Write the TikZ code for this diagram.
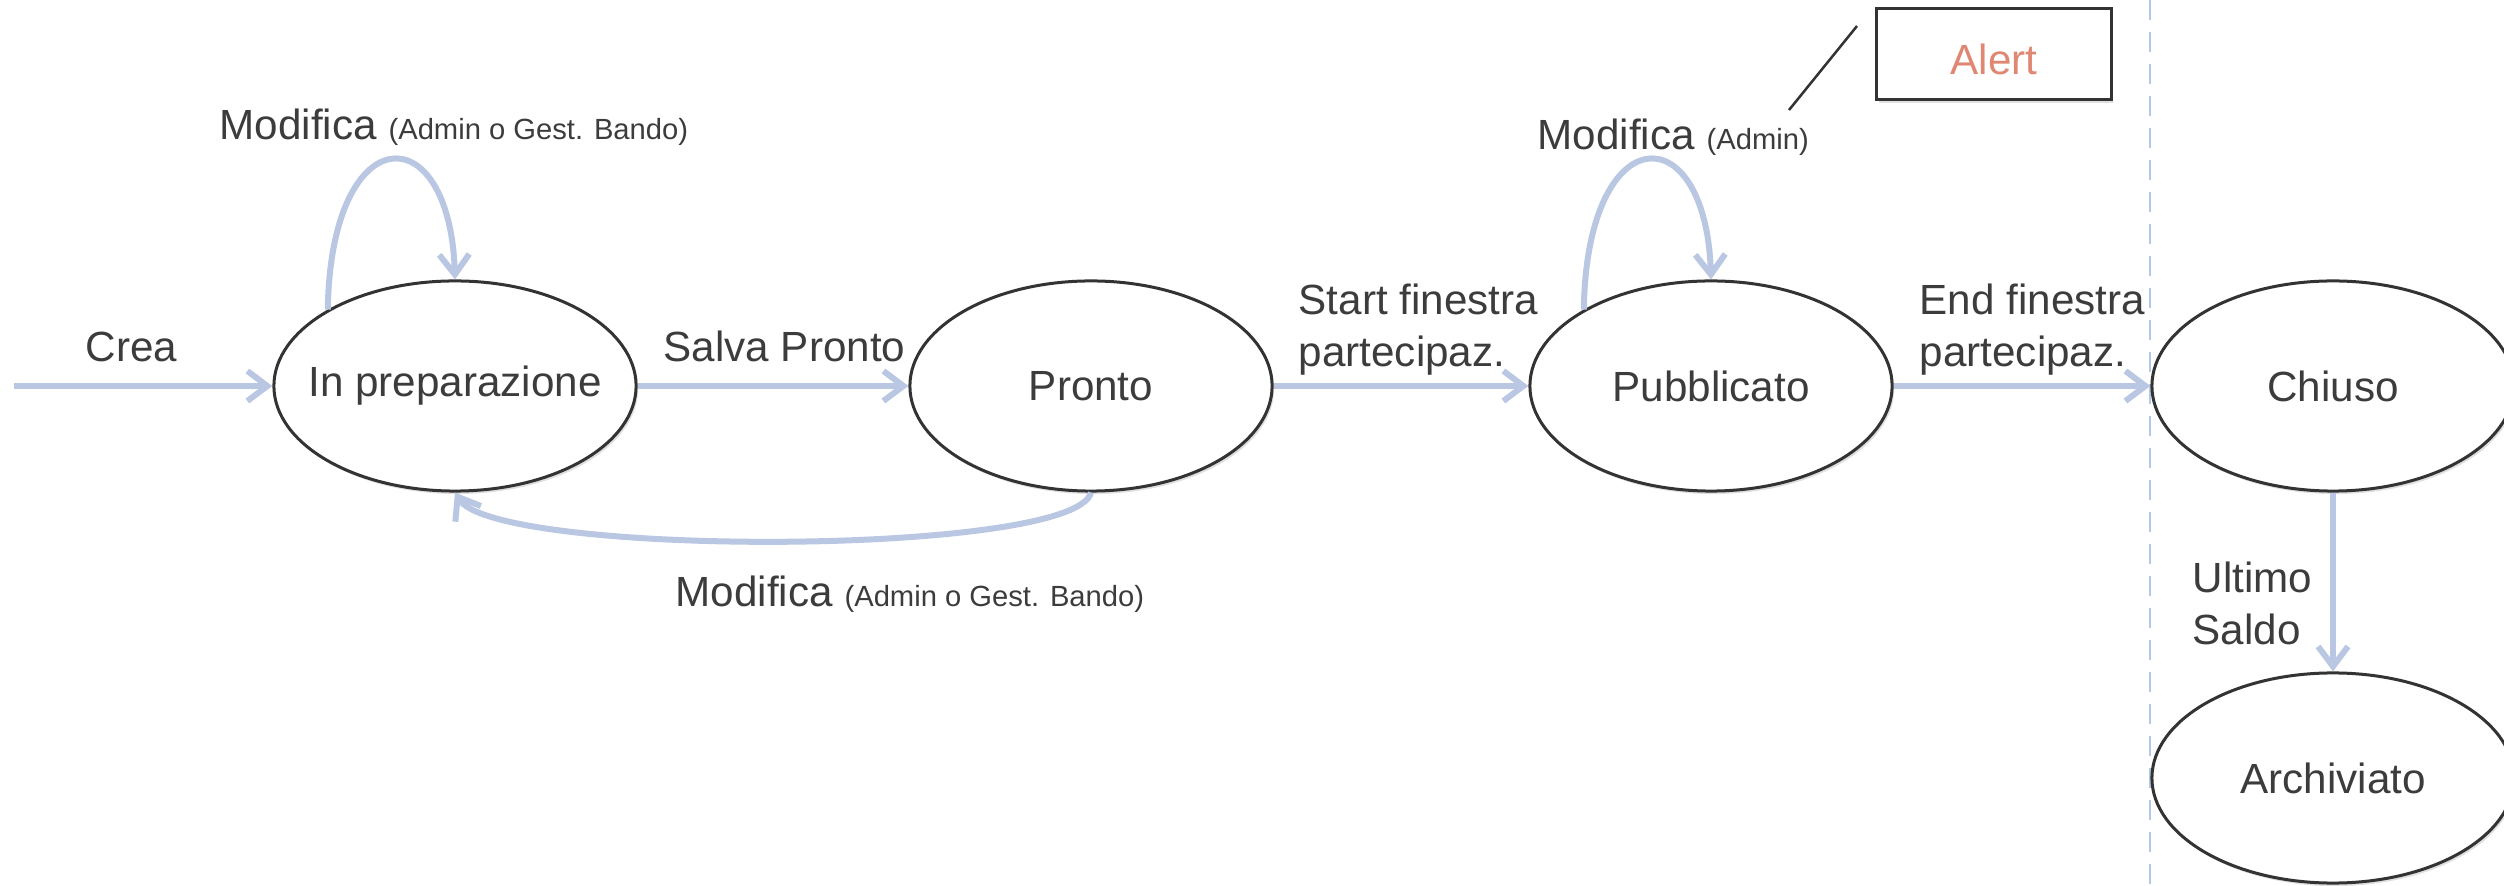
\documentclass[tikz,border=0pt]{standalone}
\usepackage{fontspec}
\setmainfont{Liberation Sans}
\usetikzlibrary{shapes.geometric,arrows.meta,shadows}
\definecolor{flowblue}{RGB}{185,199,227}
\definecolor{dashblue}{RGB}{180,199,231}
\definecolor{edgegray}{RGB}{51,51,51}
\definecolor{txtgray}{RGB}{60,60,60}
\definecolor{alertred}{RGB}{224,135,115}
\newcommand\bigsz{\fontsize{12}{14.8}\selectfont}
\newcommand\smallsz{\fontsize{8.3}{10}\selectfont}

\begin{document}
\begin{tikzpicture}[x=0.01cm,y=-0.01cm,
  state/.style={ellipse, draw=edgegray, line width=0.03cm, fill=white,
    minimum width=3.62cm, minimum height=2.1cm, inner xsep=-0.5cm, inner ysep=0pt,
    text=txtgray, font=\bigsz,
    drop shadow={shadow xshift=0.02cm, shadow yshift=-0.03cm, opacity=0.25}},
  flow/.style={draw=flowblue, line width=0.06cm,
    -{Straight Barb[length=0.2cm,width=0.3cm]}},
  lab/.style={text=txtgray, font=\bigsz, inner sep=0pt, anchor=base west, align=left},
  alertbox/.style={draw=edgegray, line width=0.03cm, fill=white,
    minimum width=2.34cm, minimum height=0.91cm, inner sep=0pt,
    text=alertred, font=\bigsz, text height=0.41cm, text depth=0pt,
    drop shadow={shadow xshift=0.02cm, shadow yshift=-0.03cm, opacity=0.25}}]

  \path[use as bounding box] (0,0) rectangle (2504,886);
  \clip (0,0) rectangle (2504,886);

  % separator between active and closed states
  \coordinate (sepTop) at (2150,0);
  \coordinate (sepBot) at (2150,886);
  \draw[dashblue, line width=0.02cm, dash pattern=on 0.2cm off 0.12cm] (sepTop) -- (sepBot);

  % states
  \node[state] (prep)   at (455,386)  {In preparazione};
  \node[state] (pronto) at (1091,386) {Pronto};
  \node[state] (pubbl)  at (1711,386) {Pubblicato};
  \node[state] (chiuso) at (2333,386) {Chiuso};
  \node[state] (arch)   at (2333,778) {Archiviato};

  % alert callout
  \node[alertbox] (alert) at (1994,54) {Alert};
  \coordinate (calloutA) at (1857,26);
  \coordinate (calloutB) at (1789,110);
  \draw[edgegray, line width=0.025cm] (calloutA) -- (calloutB);

  % transitions
  \coordinate (entry) at (14,386);
  \draw[flow] (entry) -- (prep.west);
  \draw[flow] (prep.east) -- (pronto.west);
  \draw[flow] (pronto.east) -- (pubbl.west);
  \draw[flow] (pubbl.east) -- (chiuso.west);
  \draw[flow] (chiuso.south) -- (arch.north);
  \draw[flow] (prep.149) .. controls +(3,-193) and +(-5,-166) .. (prep.north);
  \draw[flow] (pubbl.149) .. controls +(3,-193) and +(-5,-166) .. (pubbl.north);
  \draw[flow] (pronto.south) .. controls +(-16,64) and +(40,65) .. (prep.south);

  % transition labels (base anchor sits on the last line)
  \node[lab] (lcrea)  at (85,362)   {Crea};
  \node[lab] (lsalva) at (663,362)  {Salva Pronto};
  \node[lab] (lstart) at (1298,367) {Start finestra\\partecipaz.};
  \node[lab] (lend)   at (1919,367) {End finestra\\partecipaz.};
  \node[lab] (lult)   at (2192,645) {Ultimo\\Saldo};
  \node[lab] (lmod1)  at (219,140)  {Modifica {\smallsz(Admin o Gest. Bando)}};
  \node[lab] (lmod2)  at (1537,150) {Modifica {\smallsz(Admin)}};
  \node[lab] (lmod3)  at (675,607)  {Modifica {\smallsz(Admin o Gest. Bando)}};
\end{tikzpicture}
\end{document}
